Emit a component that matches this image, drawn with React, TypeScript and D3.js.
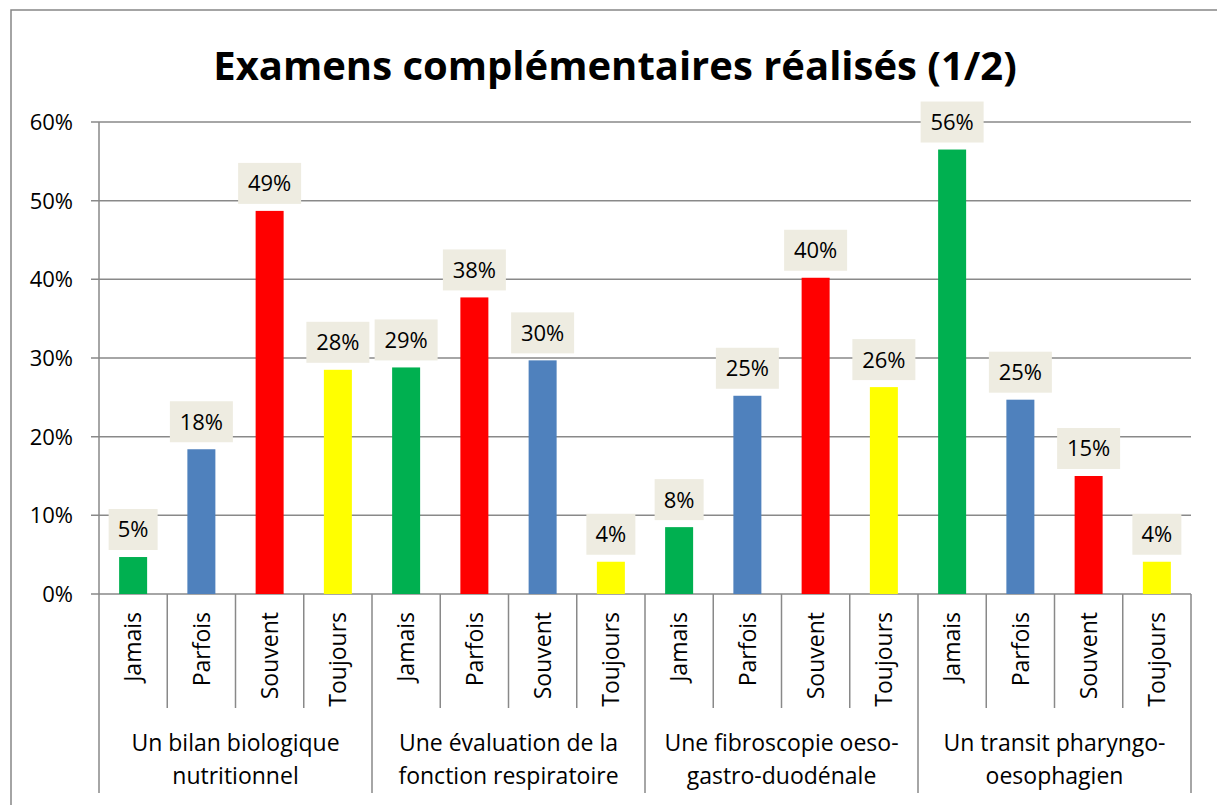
import * as d3 from "d3";

const groups = [
  ["Un bilan biologique", "nutritionnel"],
  ["Une évaluation de la", "fonction respiratoire"],
  ["Une fibroscopie oeso-", "gastro-duodénale"],
  ["Un transit pharyngo-", "oesophagien"],
];
const answers = ["Jamais", "Parfois", "Souvent", "Toujours"];
const values = [
  [4.7, 18.4, 48.7, 28.5],
  [28.8, 37.7, 29.7, 4.1],
  [8.5, 25.2, 40.2, 26.3],
  [56.5, 24.7, 15.0, 4.1],
];
const labels = [
  ["5%", "18%", "49%", "28%"],
  ["29%", "38%", "30%", "4%"],
  ["8%", "25%", "40%", "26%"],
  ["56%", "25%", "15%", "4%"],
];
const colors = [
  ["#00B050", "#4F81BD", "#FF0000", "#FFFF00"],
  ["#00B050", "#FF0000", "#4F81BD", "#FFFF00"],
  ["#00B050", "#4F81BD", "#FF0000", "#FFFF00"],
  ["#00B050", "#4F81BD", "#FF0000", "#FFFF00"],
];
const yTicks = [0, 10, 20, 30, 40, 50, 60];

const font = "'Open Sans', sans-serif";
const grid = "#898989";

export default function App() {
  const width = 1217;
  const height = 805;
  const left = 99;
  const right = 1191;
  const top = 122;
  const bottom = 594;

  const cats = groups.flatMap((g, gi) => answers.map((a, ai) => `${gi}-${ai}`));
  const x = d3.scaleBand<string>().domain(cats).range([left, right]);
  const gx = d3.scaleBand<number>().domain(d3.range(groups.length)).range([left, right]);
  const y = d3.scaleLinear().domain([0, 60]).range([bottom, top]);
  const barW = 28;

  return (
    <svg
      width={width}
      height={height}
      style={{ position: "absolute", left: 0, top: 0, background: "#fff" }}
      fontFamily={font}
    >
      <rect x={11} y={10} width={width + 20} height={height + 20} fill="#fff" stroke="#868686" strokeWidth={1.5} />
      <text x={615} y={80} textAnchor="middle" fontSize={40} fontWeight="bold" fill="#000">
        Examens complémentaires réalisés (1/2)
      </text>

      {yTicks.map((t) => (
        <g key={t}>
          <line x1={91} x2={right} y1={y(t)} y2={y(t)} stroke={grid} strokeWidth={1.5} />
          <text x={73} y={y(t)} dy="0.36em" textAnchor="end" fontSize={22} fill="#000">
            {t}%
          </text>
        </g>
      ))}
      <line x1={left} x2={left} y1={top} y2={793} stroke={grid} strokeWidth={1.5} />

      {cats.map((c, i) => {
        const x0 = x(c)!;
        const isGroupEnd = i % 4 === 3;
        return (
          <line
            key={c}
            x1={x0 + x.bandwidth()}
            x2={x0 + x.bandwidth()}
            y1={bottom}
            y2={isGroupEnd ? 793 : 708}
            stroke={grid}
            strokeWidth={1.5}
          />
        );
      })}

      {values.map((row, gi) =>
        row.map((v, ai) => {
          const c = `${gi}-${ai}`;
          const cx = x(c)! + x.bandwidth() / 2;
          const yt = y(v);
          const lbl = labels[gi][ai];
          const bw = lbl.length > 2 ? 63 : 49;
          return (
            <g key={c}>
              <rect x={cx - barW / 2} y={yt} width={barW} height={bottom - yt} fill={colors[gi][ai]} />
              <rect x={cx - bw / 2} y={yt - 48} width={bw} height={41} fill="#EEECE1" />
              <text x={cx} y={yt - 27.5} dy="0.36em" textAnchor="middle" fontSize={22} fill="#000">
                {lbl}
              </text>
              <text
                transform={`translate(${cx},612) rotate(-90)`}
                dy="0.36em"
                textAnchor="end"
                fontSize={23}
                fill="#000"
              >
                {answers[ai]}
              </text>
            </g>
          );
        })
      )}

      {groups.map((g, gi) => (
        <text key={gi} x={gx(gi)! + gx.bandwidth() / 2} textAnchor="middle" fontSize={23} fill="#000">
          <tspan x={gx(gi)! + gx.bandwidth() / 2} y={751}>
            {g[0]}
          </tspan>
          <tspan x={gx(gi)! + gx.bandwidth() / 2} y={784}>
            {g[1]}
          </tspan>
        </text>
      ))}
    </svg>
  );
}
